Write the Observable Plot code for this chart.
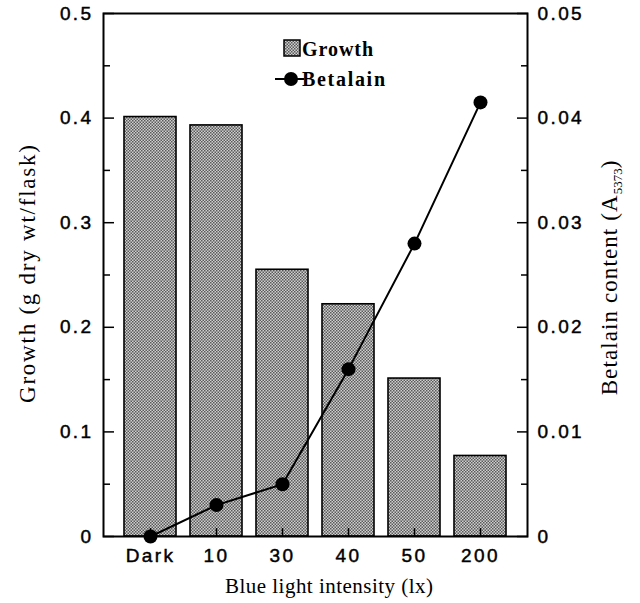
<!DOCTYPE html>
<html>
<head>
<meta charset="utf-8">
<script src="https://cdn.jsdelivr.net/npm/d3@7"></script>
<script src="https://cdn.jsdelivr.net/npm/@observablehq/plot@0.6"></script>
<style>
  html, body { margin: 0; padding: 0; background: #fff; }
  #chart svg { display: block; }
</style>
</head>
<body>
<div id="chart"></div>
<script>
const categories = ["Dark", "10", "30", "40", "50", "200"];
const growth = [0.401, 0.393, 0.255, 0.222, 0.151, 0.077];
const betalain = [0, 0.003, 0.005, 0.016, 0.028, 0.0415];
const growthTicks = [0, 0.1, 0.2, 0.3, 0.4, 0.5];
const growthMinorTicks = [0.05, 0.15, 0.25, 0.35, 0.45];
const betalainTicks = [0, 0.01, 0.02, 0.03, 0.04, 0.05];
const betalainMinorTicks = [0.005, 0.015, 0.025, 0.035, 0.045];
const BETA_SCALE = 10; // betalain axis max 0.05 maps onto growth axis max 0.5

const rows = categories.map((c, i) => ({cat: c, growth: growth[i], betalain: betalain[i]}));
const fmtBeta = d => d === 0 ? "0" : d3.format(".2f")(d / BETA_SCALE);
const fmtGrowth = d => d === 0 ? "0" : d3.format(".1f")(d);

const tickFont = "Liberation Sans, Arial, sans-serif";
const serif = "Liberation Serif, Times New Roman, serif";

const chart = Plot.plot({
  width: 640,
  height: 603,
  marginLeft: 103,
  marginRight: 113,
  marginTop: 13,
  marginBottom: 67,
  style: {fontFamily: tickFont, fontSize: "19px", color: "#000", background: "#fff"},
  x: {domain: categories, paddingInner: 0.218, paddingOuter: 0.286, label: null},
  y: {domain: [0, 0.5], label: null},
  marks: [
    Plot.barY(rows, {x: "cat", y: "growth", fill: "url(#stipple)", stroke: "#000", strokeWidth: 1.6}),
    Plot.frame({stroke: "#000", strokeWidth: 2}),
    Plot.axisY(growthTicks, {anchor: "left", tickSize: -11, tickPadding: 21, tickFormat: fmtGrowth, strokeWidth: 1.5, fontSize: 19}),
    Plot.axisY(growthMinorTicks, {anchor: "left", tickSize: -7, tickFormat: () => "", strokeWidth: 1.5}),
    Plot.axisY(betalainTicks.map(v => v * BETA_SCALE), {anchor: "right", tickSize: -11, tickPadding: 21, tickFormat: fmtBeta, strokeWidth: 1.5, fontSize: 19}),
    Plot.axisY(betalainMinorTicks.map(v => v * BETA_SCALE), {anchor: "right", tickSize: -7, tickFormat: () => "", strokeWidth: 1.5}),
    Plot.axisX({anchor: "bottom", tickSize: -8, tickPadding: 20, strokeWidth: 1.5, fontSize: 19}),
    Plot.line(rows, {x: "cat", y: d => d.betalain * BETA_SCALE, stroke: "#000", strokeWidth: 2}),
    Plot.dot(rows, {x: "cat", y: d => d.betalain * BETA_SCALE, r: 7, fill: "#000"})
  ]
});

const svg = d3.select(chart);
// widen and darken tick labels to match the heavy, stretched lettering of the original
svg.selectAll('g[aria-label$="tick label"] text')
  .attr("letter-spacing", "2.4px")
  .attr("stroke", "#000").attr("stroke-width", 0.45);

// stipple pattern for bars
const defs = svg.insert("defs", ":first-child");
const pat = defs.append("pattern").attr("id", "stipple").attr("patternUnits", "userSpaceOnUse")
  .attr("width", 3).attr("height", 3);
pat.append("rect").attr("width", 3).attr("height", 3).attr("fill", "#cfcfcf");
pat.append("rect").attr("x", 0).attr("y", 0).attr("width", 1.5).attr("height", 1.5).attr("fill", "#5a5a5a");
pat.append("rect").attr("x", 1.5).attr("y", 1.5).attr("width", 1.5).attr("height", 1.5).attr("fill", "#5a5a5a");

// axis titles
svg.append("text").attr("x", 329).attr("y", 593).attr("text-anchor", "middle")
  .attr("font-family", serif).attr("font-size", 21).attr("fill", "#000")
  .attr("textLength", 208).attr("lengthAdjust", "spacing")
  .text("Blue light intensity (lx)");
svg.append("text").attr("transform", "translate(35,274) rotate(-90)").attr("text-anchor", "middle")
  .attr("font-family", serif).attr("font-size", 23).attr("fill", "#000")
  .attr("textLength", 258).attr("lengthAdjust", "spacing")
  .text("Growth (g dry wt/flask)");
const rt = svg.append("text").attr("transform", "translate(617,278) rotate(-90)").attr("text-anchor", "middle")
  .attr("font-family", serif).attr("font-size", 23).attr("fill", "#000");
rt.append("tspan").attr("letter-spacing", "1.1px").text("Betalain content (A");
rt.append("tspan").attr("font-size", 13).attr("dy", 5).text("5373");
rt.append("tspan").attr("dy", -5).text(")");

// legend
const lg = svg.append("g").attr("font-family", serif).attr("font-size", 20).attr("font-weight", "bold")
  .attr("fill", "#000").attr("text-anchor", "start");
lg.append("rect").attr("x", 284).attr("y", 40).attr("width", 16).attr("height", 16)
  .attr("fill", "url(#stipple)").attr("stroke", "#000").attr("stroke-width", 1.5);
lg.append("text").attr("x", 302).attr("y", 56).attr("textLength", 71).attr("lengthAdjust", "spacing").text("Growth");
lg.append("line").attr("x1", 275).attr("x2", 304).attr("y1", 79).attr("y2", 79).attr("stroke", "#000").attr("stroke-width", 2);
lg.append("circle").attr("cx", 291).attr("cy", 79).attr("r", 7).attr("fill", "#000");
lg.append("text").attr("x", 302).attr("y", 86).attr("textLength", 83).attr("lengthAdjust", "spacing").text("Betalain");

document.getElementById("chart").appendChild(chart);
</script>
</body>
</html>
